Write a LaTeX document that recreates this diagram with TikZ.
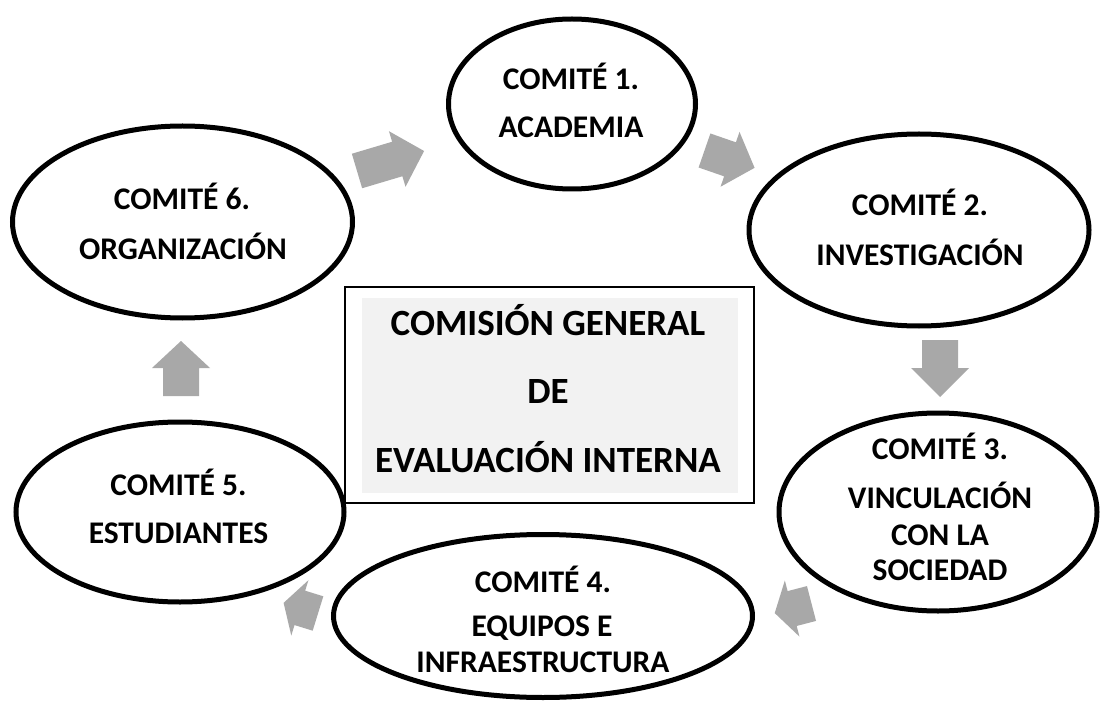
\documentclass[tikz,border=0pt]{standalone}
\usepackage{fontspec}
\setmainfont{Carlito}
\usetikzlibrary{shapes.geometric}
\definecolor{arrowgray}{RGB}{168,168,168}
\definecolor{boxgray}{RGB}{242,242,242}
\newcommand{\garrow}[6]{% name, x, y, angle, length, headlength
  \begin{scope}[shift={(#2,#3)},rotate=#4]
    \fill[arrowgray] (0,-18) -- (#5-#6,-18) -- (#5-#6,-29) -- (#5,0) -- (#5-#6,29) -- (#5-#6,18) -- (0,18) -- cycle;
    \coordinate (#1) at (#5/2,0);
  \end{scope}}
\begin{document}
\begin{tikzpicture}[x=1pt,y=-1pt,
  comite/.style={ellipse,draw=black,line width=5pt,inner sep=0pt},
  ltext/.style={font=\bfseries\fontsize{31.5}{34}\selectfont,inner sep=0pt,anchor=base},
  btext/.style={font=\bfseries\fontsize{37}{40}\selectfont,inner sep=0pt,anchor=base}]
\useasboundingbox (0,0) rectangle (1100,711);
\fill[white] (0,0) rectangle (1100,711);
% central box
\node[draw=black,line width=2pt,minimum width=409pt,minimum height=216pt,inner sep=0pt] (box) at (549.5,395) {};
\node[fill=boxgray,minimum width=376pt,minimum height=195pt,inner sep=0pt] (boxin) at (550,395.5) {};
\node[btext] (b1) at (548,335) {COMISIÓN GENERAL};
\node[btext] (b2) at (548,403) {DE};
\node[btext] (b3) at (548,472) {EVALUACIÓN INTERNA};
% ellipses
\node[comite,minimum width=247pt,minimum height=170pt] (c1) at (572,104) {};
\node[comite,minimum width=340pt,minimum height=192pt] (c6) at (182.5,222) {};
\node[comite,minimum width=340pt,minimum height=192pt] (c2) at (919,230) {};
\node[comite,minimum width=318pt,minimum height=198pt] (c3) at (938,512) {};
\node[comite,minimum width=419pt,minimum height=163pt] (c4) at (543,616) {};
\node[comite,minimum width=328pt,minimum height=180pt] (c5) at (180,512) {};
% texts
\node[ltext] (t1a) at (571,90) {COMITÉ 1.};
\node[ltext] (t1b) at (571,138) {ACADEMIA};
\node[ltext] (t6a) at (182,210) {COMITÉ 6.};
\node[ltext] (t6b) at (183,260) {ORGANIZACIÓN};
\node[ltext] (t2a) at (920,216) {COMITÉ 2.};
\node[ltext] (t2b) at (920,266) {INVESTIGACIÓN};
\node[ltext] (t3a) at (940,459) {COMITÉ 3.};
\node[ltext] (t3b) at (940,508) {VINCULACIÓN};
\node[ltext] (t3c) at (940,545) {CON LA};
\node[ltext] (t3d) at (940,580) {SOCIEDAD};
\node[ltext] (t4a) at (543,592) {COMITÉ 4.};
\node[ltext] (t4b) at (542,636) {EQUIPOS E};
\node[ltext] (t4c) at (543,672) {INFRAESTRUCTURA};
\node[ltext] (t5a) at (178.5,495) {COMITÉ 5.};
\node[ltext] (t5b) at (178.5,543) {ESTUDIANTES};
% arrows
\garrow{a61}{357}{171}{16.6}{70}{28}
\garrow{a12}{704.5}{150.5}{-19.1}{53}{26}
\garrow{a23}{940}{340}{-90}{57}{29}
\garrow{a34}{811.5}{603.5}{194.6}{38}{18}
\garrow{a45}{318}{613.5}{162.8}{36}{17}
\garrow{a56}{181}{396}{90}{55}{27}
\end{tikzpicture}
\end{document}
